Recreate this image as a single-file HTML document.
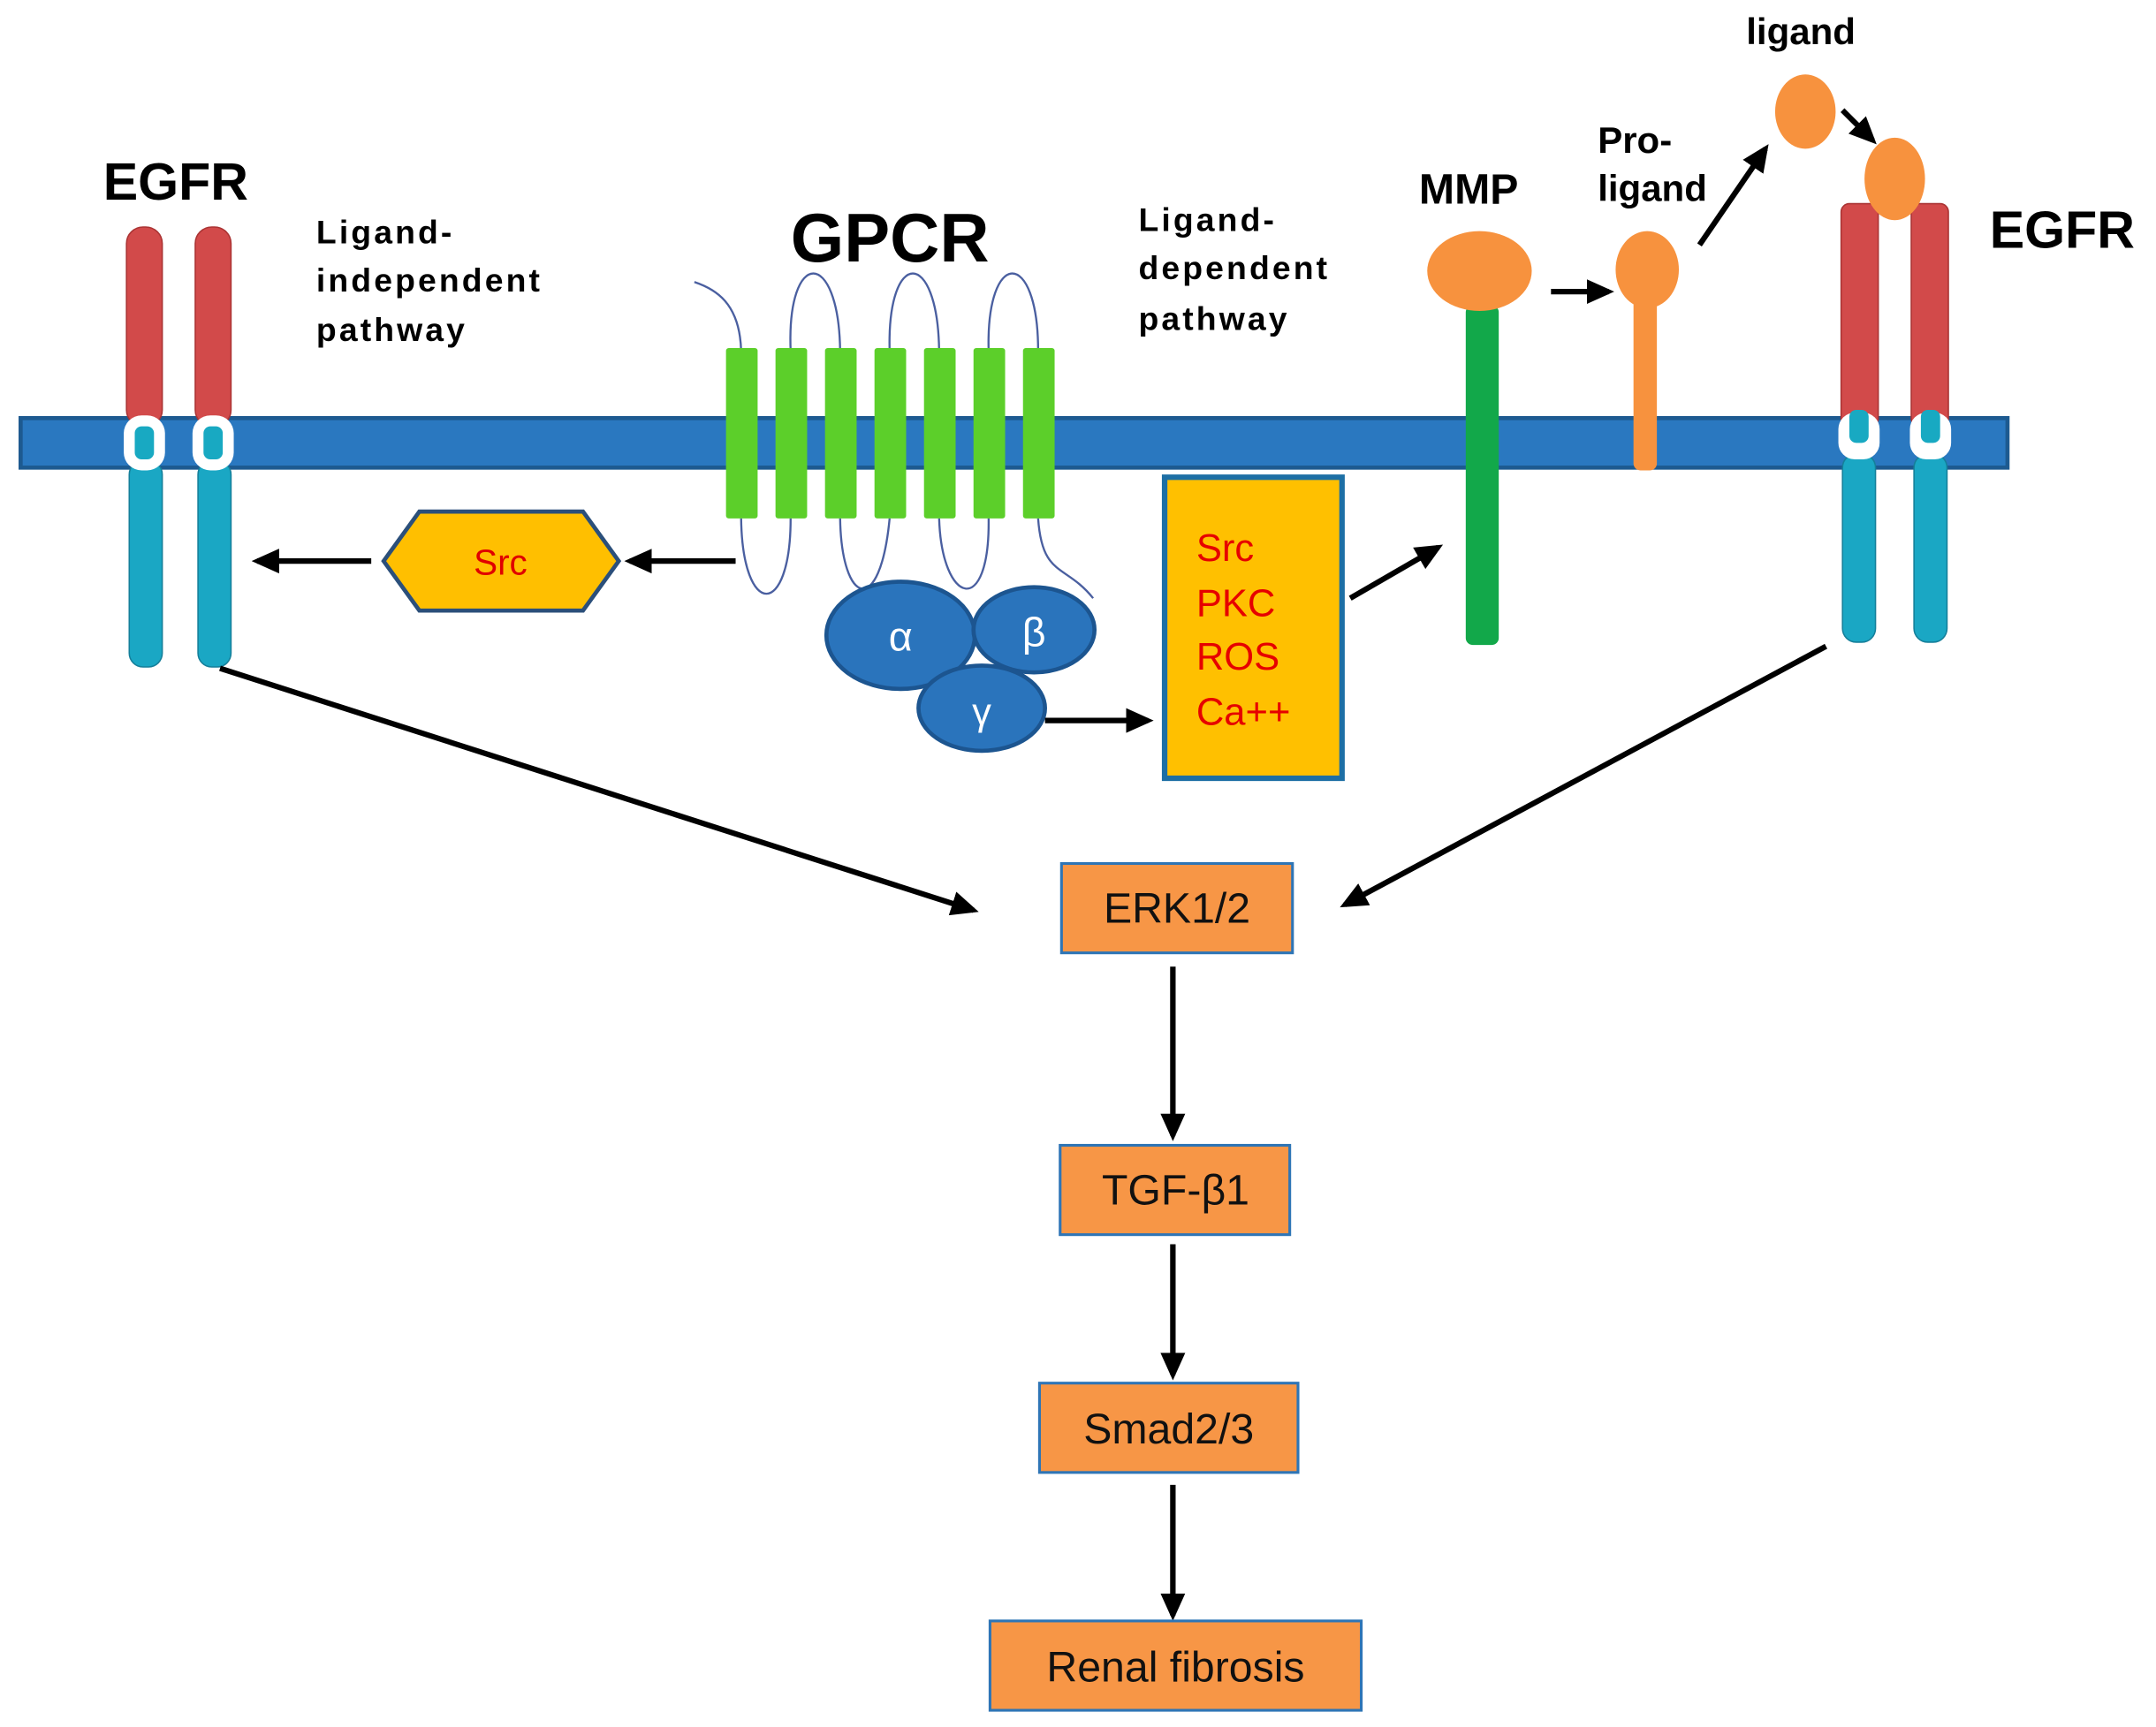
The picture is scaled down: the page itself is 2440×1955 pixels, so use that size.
<!DOCTYPE html>
<html><head><meta charset="utf-8"><style>
html,body{margin:0;padding:0;background:#fff;}
svg{display:block;}
text{font-family:"Liberation Sans",sans-serif;}
</style></head><body>
<svg width="2440" height="1955" viewBox="0 0 1568 1256" xmlns="http://www.w3.org/2000/svg">
<defs>
<marker id="ah2" markerWidth="20" markerHeight="20" refX="16" refY="10" orient="auto" markerUnits="userSpaceOnUse" viewBox="0 0 20 20">
<path d="M0,1 L20,10 L0,19 z" fill="#000"/></marker>
</defs>

<rect x="15" y="304" width="1445" height="36" fill="#2a78c0" stroke="#1d5a90" stroke-width="3"/>

<g>
<rect x="92" y="165" width="26" height="145" rx="12" fill="#d24a4a" stroke="#a33" stroke-width="1"/>
<rect x="142" y="165" width="26" height="145" rx="12" fill="#d24a4a" stroke="#a33" stroke-width="1"/>
<rect x="94" y="335" width="24" height="150" rx="10" fill="#1aa7c4" stroke="#157f9a" stroke-width="1"/>
<rect x="144" y="335" width="24" height="150" rx="10" fill="#1aa7c4" stroke="#157f9a" stroke-width="1"/>
<rect x="90" y="302" width="30" height="40" rx="13" fill="#fff"/>
<rect x="140" y="302" width="30" height="40" rx="13" fill="#fff"/>
<rect x="98" y="310" width="14" height="24" rx="5" fill="#18a9c2"/>
<rect x="148" y="310" width="14" height="24" rx="5" fill="#18a9c2"/>
</g>

<g>
<rect x="1339" y="148" width="27" height="162" rx="6" fill="#d24a4a" stroke="#a33" stroke-width="1"/>
<rect x="1390" y="148" width="27" height="162" rx="6" fill="#d24a4a" stroke="#a33" stroke-width="1"/>
<rect x="1340" y="330" width="24" height="137" rx="10" fill="#1aa7c4" stroke="#157f9a" stroke-width="1"/>
<rect x="1392" y="330" width="24" height="137" rx="10" fill="#1aa7c4" stroke="#157f9a" stroke-width="1"/>
<rect x="1337" y="300" width="30" height="34" rx="12" fill="#fff"/>
<rect x="1389" y="300" width="30" height="34" rx="12" fill="#fff"/>
<rect x="1345" y="298" width="14" height="24" rx="5" fill="#18a9c2"/>
<rect x="1397" y="298" width="14" height="24" rx="5" fill="#18a9c2"/>
</g>

<g fill="none" stroke="#4a5fa0" stroke-width="1.5">
<path d="M505,205 C520,210 538,220 539,255"/>
<path d="M575,255 C572,180 610,180 611,255"/>
<path d="M647,255 C645,180 682,180 683,255"/>
<path d="M719,255 C717,180 755,180 755,255"/>
<path d="M539,377 C540,450 575,450 575,377"/>
<path d="M611,377 C612,440 640,450 647,377"/>
<path d="M683,377 C685,440 720,450 719,377"/>
<path d="M755,377 C758,420 775,410 795,435"/>
</g>
<g fill="#5ccf2a">
<rect x="528" y="253" width="23" height="124" rx="2"/>
<rect x="564" y="253" width="23" height="124" rx="2"/>
<rect x="600" y="253" width="23" height="124" rx="2"/>
<rect x="636" y="253" width="23" height="124" rx="2"/>
<rect x="672" y="253" width="23" height="124" rx="2"/>
<rect x="708" y="253" width="23" height="124" rx="2"/>
<rect x="744" y="253" width="23" height="124" rx="2"/>
</g>

<g fill="#2a74bc" stroke="#1c5590" stroke-width="3">
<ellipse cx="655" cy="462" rx="54" ry="39"/>
<ellipse cx="752" cy="458" rx="44" ry="31"/>
<ellipse cx="714" cy="515" rx="46" ry="31"/>
</g>
<text x="655" y="473" font-size="30" fill="#fff" text-anchor="middle" font-family="Liberation Serif">α</text>
<text x="752" y="470" font-size="30" fill="#fff" text-anchor="middle" font-family="Liberation Serif">β</text>
<text x="714" y="527" font-size="28" fill="#fff" text-anchor="middle" font-family="Liberation Serif">γ</text>

<polygon points="279,408 305,372 424,372 450,408 424,444 305,444" fill="#ffbf00" stroke="#2b4f7a" stroke-width="3"/>
<text x="364" y="418" font-size="26" fill="#e00000" text-anchor="middle">Src</text>

<rect x="847" y="347" width="129" height="219" fill="#ffc000" stroke="#1d6fa5" stroke-width="4"/>
<g font-size="28" fill="#e60000">
<text x="870" y="408">Src</text>
<text x="870" y="448">PKC</text>
<text x="870" y="487">ROS</text>
<text x="870" y="527">Ca++</text>
</g>

<rect x="1066" y="222" width="24" height="247" rx="5" fill="#12a84a"/>
<ellipse cx="1076" cy="197" rx="38" ry="29" fill="#f7923e"/>
<rect x="1188" y="210" width="17" height="132" rx="5" fill="#f7923e"/>
<ellipse cx="1198" cy="196" rx="23" ry="28" fill="#f7923e"/>
<ellipse cx="1313" cy="81" rx="22" ry="27" fill="#f7923e"/>
<ellipse cx="1378" cy="130" rx="22" ry="30" fill="#f7923e"/>

<g font-weight="bold" fill="#000">
<text x="75" y="145" font-size="38">EGFR</text>
<text x="1447" y="180" font-size="38">EGFR</text>
<text x="575" y="190" font-size="50">GPCR</text>
<text x="1032" y="148" font-size="31">MMP</text>
<g font-size="24" letter-spacing="2">
<text x="230" y="177">Ligand-</text>
<text x="230" y="212">independent</text>
<text x="230" y="248">pathway</text>
<text x="828" y="168">Ligand-</text>
<text x="828" y="203">dependent</text>
<text x="828" y="240">pathway</text>
</g>
<g font-size="27">
<text x="1162" y="111">Pro-</text>
<text x="1162" y="146">ligand</text>
<text x="1270" y="32">ligand</text>
</g>
</g>

<g stroke="#000" stroke-width="4" fill="none">
<line x1="535" y1="408" x2="458" y2="408" marker-end="url(#ah2)"/>
<line x1="270" y1="408" x2="187" y2="408" marker-end="url(#ah2)"/>
<line x1="760" y1="524" x2="835" y2="524" marker-end="url(#ah2)"/>
<line x1="982" y1="435" x2="1046" y2="398" marker-end="url(#ah2)"/>
<line x1="1128" y1="212" x2="1170" y2="212" marker-end="url(#ah2)"/>
<line x1="1236" y1="178" x2="1284" y2="108" marker-end="url(#ah2)"/>
<line x1="1340" y1="80" x2="1362" y2="102" marker-end="url(#ah2)"/>
<line x1="160" y1="486" x2="708" y2="662" marker-end="url(#ah2)"/>
<line x1="1328" y1="470" x2="978" y2="658" marker-end="url(#ah2)"/>
<line x1="853" y1="703" x2="853" y2="826" marker-end="url(#ah2)"/>
<line x1="853" y1="905" x2="853" y2="1000" marker-end="url(#ah2)"/>
<line x1="853" y1="1080" x2="853" y2="1175" marker-end="url(#ah2)"/>
</g>

<g fill="#f79646" stroke="#2e75b6" stroke-width="2">
<rect x="772" y="628" width="168" height="65"/>
<rect x="771" y="833" width="167" height="65"/>
<rect x="756" y="1006" width="188" height="65"/>
<rect x="720" y="1179" width="270" height="65"/>
</g>
<g font-size="31" fill="#111" text-anchor="middle">
<text x="856" y="671">ERK1/2</text>
<text x="855" y="876">TGF-β1</text>
<text x="850" y="1050">Smad2/3</text>
<text x="855" y="1223">Renal fibrosis</text>
</g>
</svg>
</body></html>
